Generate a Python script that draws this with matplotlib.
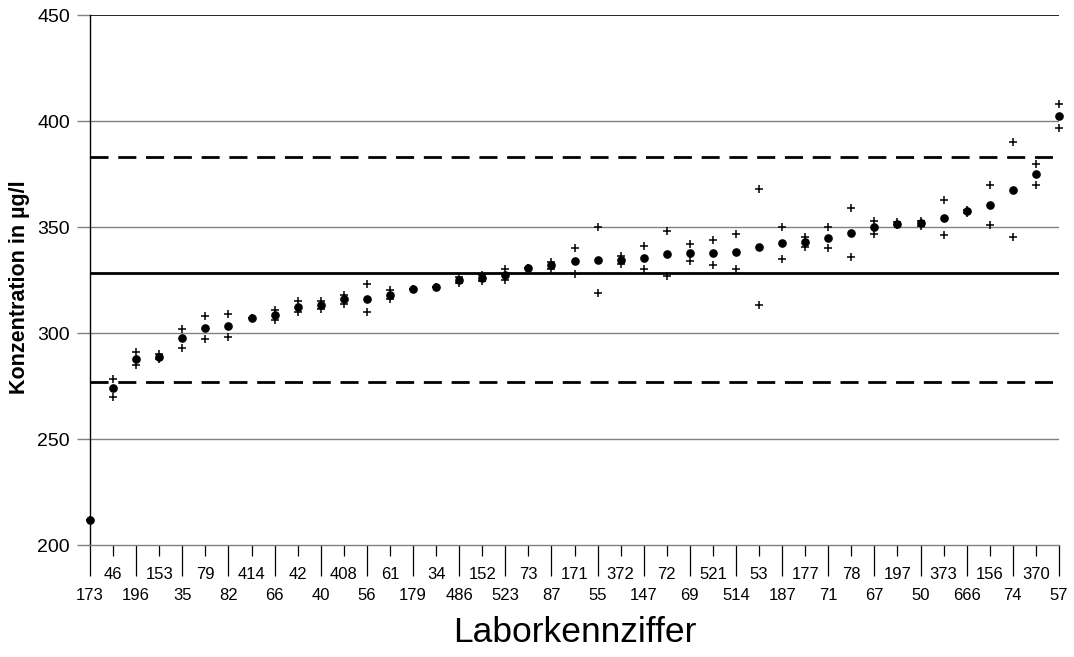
import matplotlib
matplotlib.use("Agg")
import matplotlib.pyplot as plt
import numpy as np

plt.rcParams['font.family'] = ['Liberation Sans', 'DejaVu Sans']

labs = ["173", "46", "196", "153", "35", "79", "82", "414", "66", "42", "40", "408",
        "56", "61", "179", "34", "486", "152", "523", "73", "87", "171", "55", "372",
        "147", "72", "69", "521", "514", "53", "187", "177", "71", "78", "67", "197",
        "50", "373", "666", "156", "74", "370", "57"]

means = [212.0, 274.1, 287.7, 288.8, 297.5, 302.5, 303.1, 306.9, 308.3, 312.4, 313.4, 315.9,
         316.2, 318.1, 320.6, 321.8, 325.0, 325.9, 327.5, 330.7, 331.9, 334.0, 334.4, 334.3,
         335.2, 337.4, 337.7, 337.6, 338.2, 340.4, 342.3, 342.8, 345.0, 347.3, 349.8, 351.4,
         352.0, 354.4, 357.4, 360.2, 367.5, 375.0, 402.2]

rep_high = [212.0, 278.2, 291.0, 290.2, 301.9, 307.9, 309.1, 306.9, 310.8, 315.1, 315.2, 318.1,
            323.1, 320.3, 320.6, 321.8, 326.5, 327.2, 330.0, 330.7, 333.5, 340.0, 350.0, 336.3,
            340.9, 348.0, 342.1, 343.9, 346.8, 367.9, 349.8, 345.1, 349.8, 359.0, 353.0, 352.2,
            352.8, 362.9, 358.0, 369.8, 390.0, 379.7, 407.9]

rep_low = [212.0, 270.0, 284.9, 287.8, 292.9, 297.0, 297.9, 306.9, 306.0, 309.9, 311.3, 313.8,
           309.9, 316.2, 320.6, 321.8, 323.5, 324.7, 325.0, 330.7, 330.3, 327.8, 318.9, 332.4,
           330.0, 326.9, 334.0, 332.1, 330.0, 313.2, 335.1, 340.7, 340.0, 336.0, 346.9, 350.8,
           350.6, 346.1, 356.8, 350.9, 345.1, 369.8, 396.9]

assigned_value = 328.4
upper_limit = 383.2
lower_limit = 276.9

y_ticks = [200, 250, 300, 350, 400, 450]

W, H = 1074, 657
fig = plt.figure(figsize=(W / 100, H / 100), dpi=100)
ax = fig.add_axes([90 / W, 1 - 545 / H, (1059 - 90) / W, (545 - 15) / H])

x = np.arange(len(labs))
ax.set_xlim(0, len(labs) - 1)
ax.set_ylim(200, 450)

# grid lines
for yv in y_ticks[1:-1]:
    ax.axhline(yv, color='#808080', lw=1.0, zorder=1)
ax.axhline(450, color='black', lw=1.2, zorder=1)

# reference lines
ax.axhline(assigned_value, color='black', lw=2.0, zorder=2)
ax.axhline(upper_limit, color='black', lw=2.0, dashes=(6.5, 3.5), zorder=2)
ax.axhline(lower_limit, color='black', lw=2.0, dashes=(6.5, 3.5), zorder=2)

# data
ax.plot(x, rep_high, linestyle='none', marker='+', ms=5.3, mew=1.1, color='black', clip_on=False, zorder=3)
ax.plot(x, rep_low, linestyle='none', marker='+', ms=5.3, mew=1.1, color='black', clip_on=False, zorder=3)
ax.plot(x, means, linestyle='none', marker='o', ms=5.2, color='black', clip_on=False, zorder=4)

# spines
for s in ['top', 'right']:
    ax.spines[s].set_visible(False)
ax.spines['left'].set_color('black')
ax.spines['left'].set_linewidth(1.0)
ax.spines['bottom'].set_color('#808080')
ax.spines['bottom'].set_linewidth(1.0)

# y ticks
ax.set_yticks(y_ticks)
ax.set_yticklabels([str(v) for v in y_ticks])
ax.tick_params(axis='y', direction='out', length=9.5, width=1.0, color='#808080',
               labelsize=14, pad=5)
for t in ax.yaxis.get_major_ticks():
    if abs(t.get_loc() - 450) < 1e-6:
        t.tick1line.set_color('black')

# x ticks: alternating long / short with two label rows
ax.set_xticks(x[0::2])
ax.set_xticklabels(labs[0::2])
ax.set_xticks(x[1::2], minor=True)
ax.set_xticklabels(labs[1::2], minor=True)
ax.tick_params(axis='x', which='major', direction='out', length=22.5, width=0.9,
               color='black', labelsize=12, pad=8.5)
ax.tick_params(axis='x', which='minor', direction='out', length=8, width=0.9,
               color='black', labelsize=12, pad=7.5)

fig.text(20 / W, 1 - 287 / H, 'Konzentration in µg/l', rotation=90, ha='center', va='center',
         fontsize=15.5, fontweight='bold')
fig.text(575 / W, 1 - 633 / H, 'Laborkennziffer', ha='center', va='center', fontsize=25.5)

fig.savefig('out.png', dpi=100)
